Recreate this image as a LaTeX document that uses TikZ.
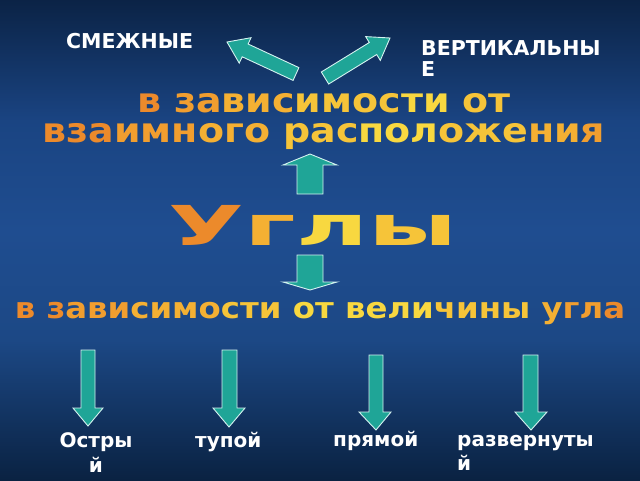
\documentclass[tikz,border=0pt]{standalone}
\usepackage{fontspec}
\setmainfont{DejaVu Sans}
\definecolor{bgtop}{HTML}{0B2346}
\definecolor{bgup}{HTML}{1A4482}
\definecolor{bgmid}{HTML}{1F4D90}
\definecolor{bglow}{HTML}{1C4885}
\definecolor{bgbot}{HTML}{0A2242}
\definecolor{arrowfill}{HTML}{1FA597}
\definecolor{arrowline}{HTML}{D4F2F0}
\definecolor{o1}{HTML}{EC8A2B}
\definecolor{o2}{HTML}{F19E2F}
\definecolor{o3}{HTML}{F4B033}
\definecolor{o4}{HTML}{F6C439}
\definecolor{o5}{HTML}{F8D840}
\begin{document}
\begin{tikzpicture}[x=1pt,y=-1pt,
  blockarrow/.style={fill=arrowfill, draw=arrowline, line width=0.9pt, line join=miter},
  whitelabel/.style={text=white, inner sep=0pt, font=\fontsize{20}{22}\selectfont\bfseries},
  orangetext/.style={inner sep=0pt}]
\useasboundingbox (0,0) rectangle (640,480);
% background
\fill[top color=bgtop, bottom color=bgup] (0,0) rectangle (640,121);
\fill[top color=bgup, bottom color=bglow, middle color=bgmid] (0,120) rectangle (640,341);
\fill[top color=bglow, bottom color=bgbot] (0,340) rectangle (640,480);
% top labels
\node[whitelabel, anchor=base west, font=\fontsize{20.5}{22}\selectfont\bfseries] (smezh) at (66,48) {СМЕЖНЫЕ};
\node[whitelabel, anchor=north west, align=left, font=\fontsize{20.5}{21}\selectfont\bfseries] (vert) at (421,40) {ВЕРТИКАЛЬНЫ\\Е};
% diagonal arrows
\draw[blockarrow] (298.9,67.6) -- (248.1,44.0) -- (251.0,37.7) -- (227,42) -- (239.2,63.1) -- (242.2,56.8) -- (293.1,80.4) -- cycle;
\draw[blockarrow] (321.3,72.0) -- (369.3,42.5) -- (365.7,36.6) -- (390,38) -- (380.3,60.4) -- (376.7,54.5) -- (328.7,84.0) -- cycle;
% top orange text
\node[orangetext, anchor=north, align=center, xscale=1.116, font=\fontsize{34}{30}\selectfont\bfseries] (mutual) at (324,93.5)
 {\textcolor{o1}{в }\textcolor{o2}{за}\textcolor{o3}{вис}\textcolor{o4}{имос}\textcolor{o5}{ти }\textcolor{o4}{от}\\
  \textcolor{o1}{вза}\textcolor{o2}{имн}\textcolor{o3}{ого }\textcolor{o4}{рас}\textcolor{o5}{пол}\textcolor{o4}{оже}\textcolor{o3}{ни}\textcolor{o2}{я}};
% up arrow
\draw[blockarrow] (297,194) -- (297,165) -- (283,165) -- (310,154) -- (337,165) -- (323,165) -- (323,194) -- cycle;
% title
\node[orangetext, anchor=base, xscale=1.79, font=\fontsize{55}{60}\selectfont\bfseries] (ugly) at (313,245)
 {\textcolor{o1}{У}\textcolor{o3}{г}\textcolor{o5}{л}\textcolor{o4}{ы}};
% down arrow
\draw[blockarrow] (297,255) -- (323,255) -- (323,282) -- (337,282) -- (310,290) -- (283,282) -- (297,282) -- cycle;
% size text
\node[orangetext, anchor=base, xscale=1.116, font=\fontsize{29}{32}\selectfont\bfseries] (size) at (320,318)
 {\textcolor{o1}{в з}\textcolor{o2}{ави}\textcolor{o3}{симо}\textcolor{o4}{сти }\textcolor{o5}{от вели}\textcolor{o4}{чины }\textcolor{o3}{у}\textcolor{o2}{гл}\textcolor{o1}{а}};
% bottom arrows
\draw[blockarrow] (81,350) -- (95,350) -- (95,408) -- (103,408) -- (88,426) -- (73,408) -- (81,408) -- cycle;
\draw[blockarrow] (222,350) -- (237,350) -- (237,408) -- (245,408) -- (229,427) -- (213,408) -- (222,408) -- cycle;
\draw[blockarrow] (369,355) -- (383,355) -- (383,412) -- (391,412) -- (376,430) -- (359,412) -- (369,412) -- cycle;
\draw[blockarrow] (523,355) -- (538,355) -- (538,412) -- (547,412) -- (531,430) -- (515,412) -- (523,412) -- cycle;
% bottom labels
\node[whitelabel, anchor=north, align=center, font=\fontsize{20}{25}\selectfont\bfseries] (acute) at (96,432) {Остры\\й};
\node[whitelabel, anchor=base west] (obtuse) at (195,447) {тупой};
\node[whitelabel, anchor=base west] (right) at (333,446) {прямой};
\node[whitelabel, anchor=north west, align=left, font=\fontsize{20}{24}\selectfont\bfseries] (straight) at (457,435.5) {развернуты\\й};
\end{tikzpicture}
\end{document}
